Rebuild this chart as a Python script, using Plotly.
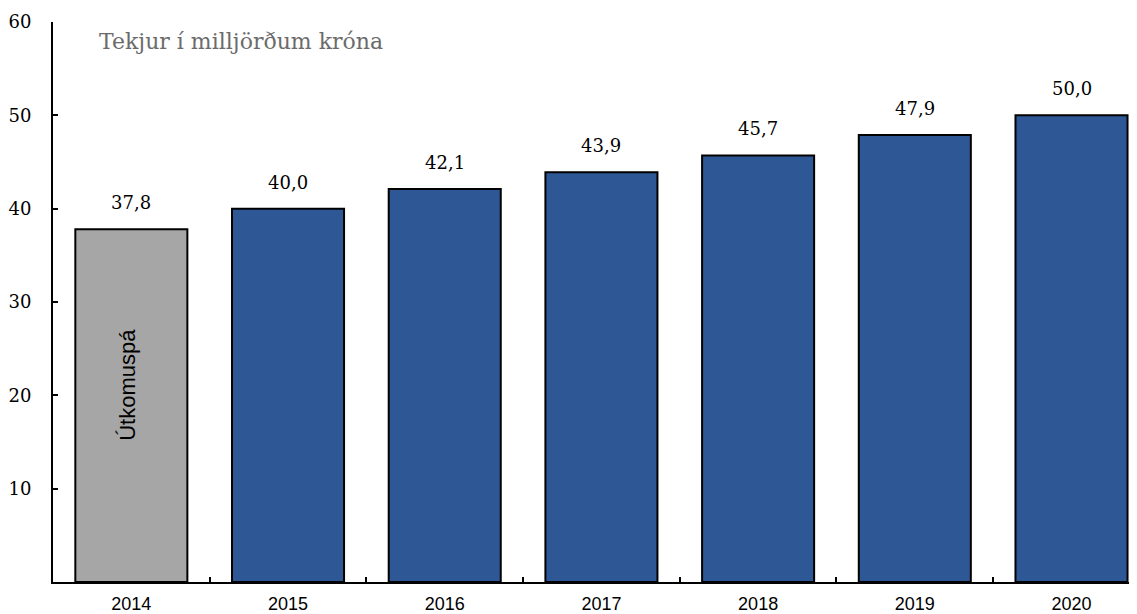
import plotly.graph_objects as go

years = ["2014", "2015", "2016", "2017", "2018", "2019", "2020"]
values = [37.8, 40.0, 42.1, 43.9, 45.7, 47.9, 50.0]
value_labels = ["37,8", "40,0", "42,1", "43,9", "45,7", "47,9", "50,0"]
bar_colors = ["#A6A6A6"] + ["#2E5895"] * 6
y_ticks = [10, 20, 30, 40, 50, 60]
title_text = "Tekjur í milljörðum króna"
forecast_label = "Útkomuspá"

fig = go.Figure()
fig.add_trace(go.Bar(
    x=years, y=values, width=0.715,
    marker=dict(color=bar_colors, line=dict(color="black", width=2)),
    hoverinfo="skip",
))

for i, (v, lab) in enumerate(zip(values, value_labels)):
    fig.add_annotation(x=i, y=v, text=lab, showarrow=False, yanchor="bottom",
                       yshift=14, font=dict(family="DejaVu Serif", size=18, color="#000"))

fig.add_annotation(x=0, y=values[0] * 0.56, text=forecast_label, textangle=-90,
                   showarrow=False, xshift=-4,
                   font=dict(family="Liberation Sans", size=22, color="#000"))

fig.add_annotation(xref="paper", yref="paper", x=0.041, y=0.965, xanchor="left", yanchor="middle",
                   text=title_text, showarrow=False,
                   font=dict(family="DejaVu Serif", size=22, color="#6B6B6B"))

fig.update_layout(
    width=1129, height=606,
    margin=dict(l=45, r=0, t=14, b=30),
    plot_bgcolor="white", paper_bgcolor="white",
    showlegend=False,
)
fig.update_xaxes(
    type="category", range=[-0.5, 6.418],
    showline=True, linecolor="black", linewidth=2,
    ticks="inside", tickson="boundaries", ticklen=5, tickcolor="black", tickwidth=2,
    showgrid=False, ticklabelstandoff=4,
    tickfont=dict(family="Liberation Sans", size=18, color="#000"),
)
fig.update_yaxes(
    range=[0, 60], tickvals=y_ticks, ticktext=[str(t) for t in y_ticks],
    showline=True, linecolor="black", linewidth=2,
    ticks="inside", ticklen=5, tickcolor="black", tickwidth=2,
    showgrid=False, zeroline=False, ticklabelstandoff=16,
    tickfont=dict(family="DejaVu Serif", size=18, color="#000"),
)

fig.write_html("out.html")
